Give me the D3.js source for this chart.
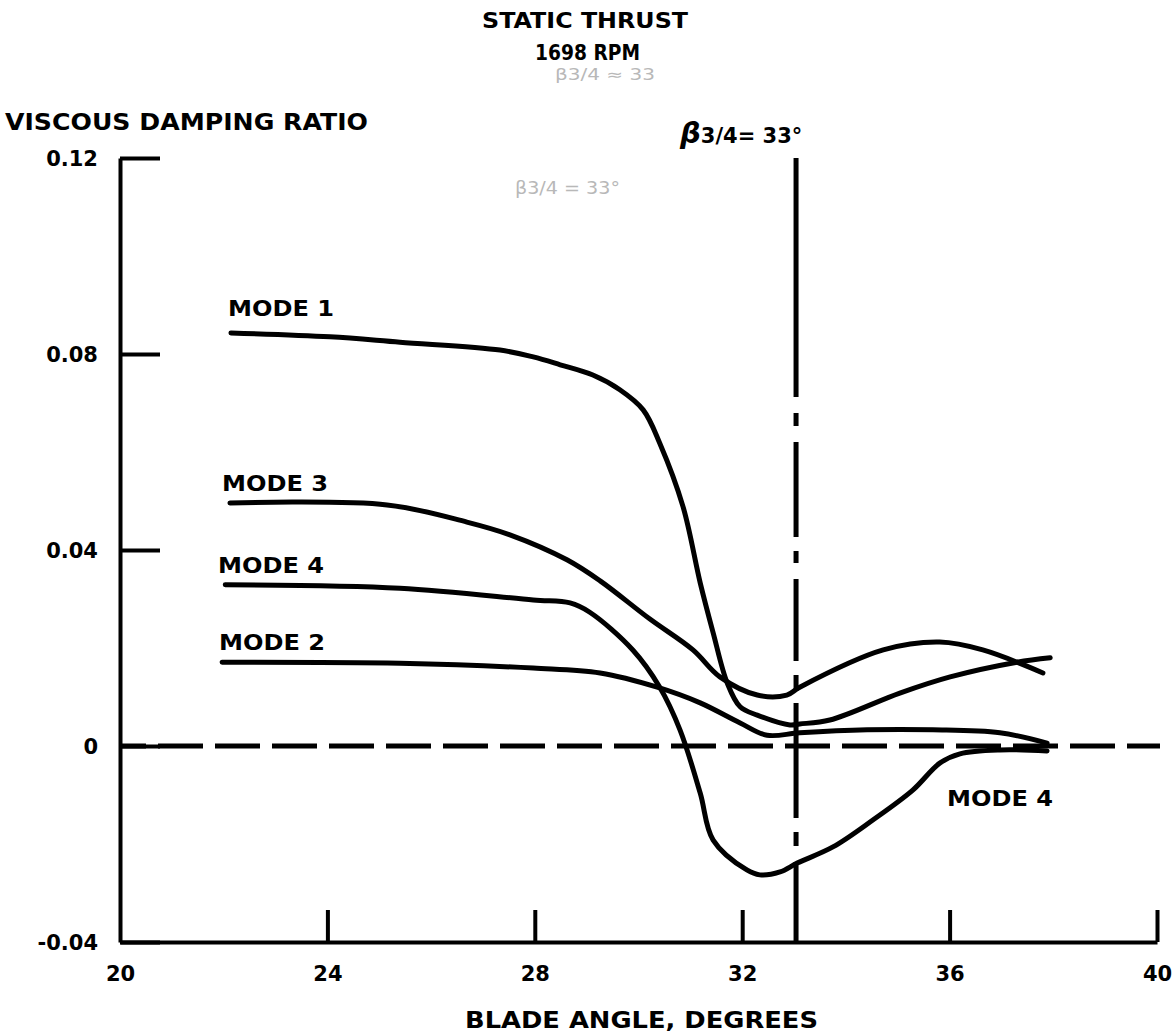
<!DOCTYPE html>
<html lang="en">
<head>
<meta charset="UTF-8" />
<title>Viscous damping ratio vs blade angle</title>
<script src="https://d3js.org/d3.v7.min.js"></script>
<style>
  body { margin: 0; background: #fff; }
  svg { display: block; }
  text { font-family: "DejaVu Sans", sans-serif; font-weight: bold; fill: #000; }
  .axis path, .axis line { stroke: #000; stroke-width: 4; }
  .axis text { font-size: 21px; font-family: "DejaVu Sans", sans-serif; font-weight: bold; }
  .mode { fill: none; stroke: #000; stroke-width: 5; stroke-linecap: round; stroke-linejoin: round; }
  .ghost { fill: #b8b8b8; font-weight: normal; }
</style>
</head>
<body>
<svg id="chart" width="1174" height="1034"></svg>
<script>
// data (blade angle deg, damping ratio)
const mode1 = [[22.14,0.0843],[24.05,0.0835],[25.4,0.0824],[27.33,0.0808],[27.97,0.0794],[28.49,0.0778],
  [29.12,0.0757],[29.64,0.0727],[30.09,0.0686],[30.41,0.0618],[30.86,0.0488],[31.19,0.0333],
  [31.44,0.0231],[31.71,0.0129],[31.96,0.008],[32.29,0.0063],[32.92,0.0043],[33.11,0.0045],[33.69,0.0053],
  [35.04,0.0108],[36.01,0.0141],[37.3,0.0171],[37.94,0.018]];
const mode3 = [[22.12,0.0496],[25.15,0.0492],[26.69,0.0457],[27.52,0.0431],[28.62,0.038],[29.26,0.0337],
  [30.22,0.0259],[31.05,0.0196],[31.57,0.0141],[32.29,0.0104],[32.86,0.0104],[33.11,0.012],[34.72,0.0196],
  [35.81,0.0212],[36.64,0.0196],[37.8,0.0149]];
const mode4 = [[22.03,0.0329],[25.4,0.0322],[27.97,0.0298],[28.68,0.0292],[29.06,0.0273],
  [29.89,0.0196],[30.41,0.012],[30.8,0.0033],[31.19,-0.0096],[31.44,-0.0192],[32.09,-0.0253],[32.34,-0.0263],
  [32.73,-0.0257],[33.06,-0.0239],[33.75,-0.0206],[34.52,-0.0151],[35.29,-0.009],[35.81,-0.0035],
  [36.2,-0.0016],[36.97,-0.0008],[37.88,-0.001]];
const mode2 = [[21.97,0.0171],[25.4,0.0169],[27.97,0.0159],[29.26,0.0149],[30.36,0.012],[31.19,0.0088],
  [31.96,0.0047],[32.48,0.0022],[33.11,0.0027],[34.41,0.0033],[35.68,0.0033],[36.97,0.0027],[37.88,0.0006]];

const xTicks = [20, 24, 28, 32, 36, 40];
const yTicks = [0.12, 0.08, 0.04, 0, -0.04];
const yTickLabels = ["0.12", "0.08", "0.04", "0", "-0.04"];
const betaLine = 33;

const svg = d3.select("#chart");
const x = d3.scaleLinear().domain([20, 40]).range([120, 1157]);
const y = d3.scaleLinear().domain([-0.04, 0.12]).range([942, 158]);

// titles
svg.append("text").attr("x", 482).attr("y", 28).attr("font-size", 22)
  .attr("textLength", 206).attr("lengthAdjust", "spacingAndGlyphs").text("STATIC THRUST");
svg.append("text").attr("x", 535).attr("y", 60).attr("font-size", 22)
  .attr("textLength", 105).attr("lengthAdjust", "spacingAndGlyphs").text("1698 RPM");
svg.append("text").attr("class", "ghost").attr("x", 555).attr("y", 80).attr("font-size", 15)
  .attr("textLength", 100).attr("lengthAdjust", "spacingAndGlyphs").text("β3/4 ≈ 33");
svg.append("text").attr("x", 5).attr("y", 130).attr("font-size", 23)
  .attr("textLength", 363).attr("lengthAdjust", "spacingAndGlyphs").text("VISCOUS DAMPING RATIO");
svg.append("text").attr("class", "ghost").attr("x", 515).attr("y", 194).attr("font-size", 17)
  .attr("textLength", 105).attr("lengthAdjust", "spacingAndGlyphs").text("β3/4 = 33°");
svg.append("text").attr("x", 465).attr("y", 1028).attr("font-size", 23)
  .attr("textLength", 353).attr("lengthAdjust", "spacingAndGlyphs").text("BLADE ANGLE, DEGREES");

// axes
const yAxis = d3.axisLeft(y).tickValues(yTicks).tickFormat((d, i) => yTickLabels[i])
  .tickSizeInner(-40).tickSizeOuter(0).tickPadding(22);
svg.append("g").attr("class", "axis").attr("transform", `translate(${x(20)},0)`).call(yAxis)
  .call(g => g.selectAll(".tick text").attr("x", -22).attr("dy", "0.35em"));

const xAxis = d3.axisBottom(x).tickValues(xTicks).tickFormat(d3.format("d"))
  .tickSizeInner(-32).tickSizeOuter(0).tickPadding(24);
svg.append("g").attr("class", "axis").attr("transform", `translate(0,${y(-0.04)})`).call(xAxis)
  .call(g => g.selectAll(".tick line").filter(d => d === 20).remove());

// zero dashed line
svg.append("line").attr("x1", x(20)).attr("x2", x(40) + 3).attr("y1", y(0)).attr("y2", y(0))
  .attr("stroke", "#000").attr("stroke-width", 5)
  .attr("stroke-dasharray", "45,12").attr("stroke-dashoffset", 19);

// beta 3/4 reference line (dash-dot, hand drawn)
svg.append("line").attr("x1", x(betaLine) + 2).attr("x2", x(betaLine) + 2).attr("y1", y(0.12)).attr("y2", y(-0.04))
  .attr("stroke", "#000").attr("stroke-width", 5)
  .attr("stroke-dasharray", "239,16,13,16,95,14,12,16,82,14,16,12,115,14,14,16,90");
const bl = svg.append("text").attr("x", 680).attr("y", 143).attr("font-size", 21);
bl.append("tspan").attr("font-size", 29).attr("font-style", "italic").text("β");
bl.append("tspan").text("3/4= 33°");

// mode curves
const line = d3.line().x(d => x(d[0])).y(d => y(d[1])).curve(d3.curveCatmullRom.alpha(0.5));
const modes = [mode1, mode3, mode4, mode2];
svg.append("g").selectAll("path").data(modes).join("path")
  .attr("class", "mode").attr("d", line);

// mode labels
const labels = [
  {t: "MODE 1", x: 228, y: 316},
  {t: "MODE 3", x: 222, y: 491},
  {t: "MODE 4", x: 218, y: 573},
  {t: "MODE 2", x: 219, y: 650},
  {t: "MODE 4", x: 947, y: 806}
];
svg.append("g").selectAll("text").data(labels).join("text")
  .attr("x", d => d.x).attr("y", d => d.y).attr("font-size", 22)
  .attr("textLength", 106).attr("lengthAdjust", "spacingAndGlyphs").text(d => d.t);
</script>
</body>
</html>
